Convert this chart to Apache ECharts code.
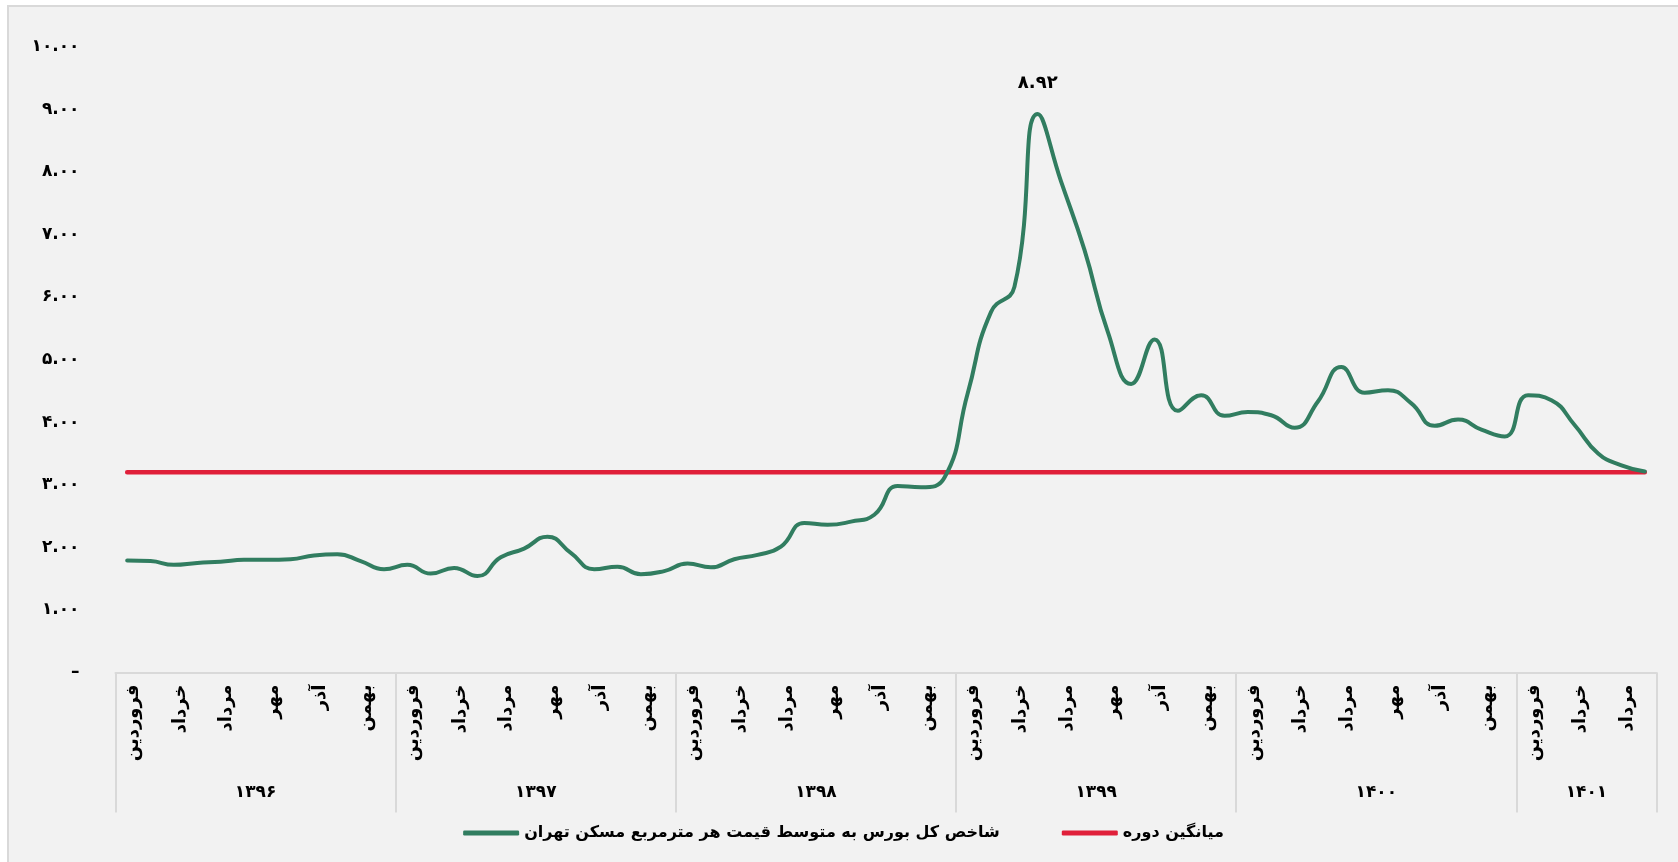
<!DOCTYPE html>
<html>
<head>
<meta charset="utf-8">
<script src="https://cdn.jsdelivr.net/npm/echarts@6/dist/echarts.min.js"></script>
<style>
  html, body { margin: 0; padding: 0; background: #fff; overflow: hidden; }
  #chart {
    position: absolute; left: 7px; top: 5px; width: 1671px; height: 857px;
    box-sizing: border-box; background: #f2f2f2;
    border-left: 2px solid #d9d9d9; border-top: 2px solid #d9d9d9;
  }
</style>
</head>
<body>
<div id="chart"></div>
<script>
// years and month names (Solar Hijri)
const years = ['۱۳۹۶', '۱۳۹۷', '۱۳۹۸', '۱۳۹۹', '۱۴۰۰', '۱۴۰۱']
const monthsPerYear = [12, 12, 12, 12, 12, 6]
const monthNames = ['فروردین', 'اردیبهشت', 'خرداد', 'تیر', 'مرداد', 'شهریور',
  'مهر', 'آبان', 'آذر', 'دی', 'بهمن', 'اسفند']

// stock index / Tehran housing price per m2, monthly
const ratio1396 = [1.79, 1.78, 1.72, 1.75, 1.77, 1.80, 1.80, 1.81, 1.87, 1.89, 1.78, 1.65]
const ratio1397 = [1.72, 1.58, 1.67, 1.54, 1.84, 1.98, 2.17, 1.91, 1.65, 1.69, 1.57, 1.62]
const ratio1398 = [1.74, 1.68, 1.81, 1.88, 2.01, 2.39, 2.36, 2.41, 2.52, 2.98, 2.96, 3.11]
const ratio1399 = [4.46, 5.76, 6.16, 8.92, 7.84, 6.75, 5.44, 4.61, 5.32, 4.18, 4.43, 4.10]
const ratio1400 = [4.16, 4.11, 3.91, 4.33, 4.88, 4.47, 4.51, 4.30, 3.94, 4.04, 3.88, 3.77]
const ratio1401 = [4.43, 4.35, 3.95, 3.50, 3.31, 3.21]
const periodAverage = 3.20

const ratioName = 'شاخص کل بورس به متوسط قیمت هر مترمربع مسکن تهران'
const avgName = 'میانگین دوره'

const ratioValues = [].concat(ratio1396, ratio1397, ratio1398, ratio1399, ratio1400, ratio1401)

const toFa = (s) => String(s).replace(/\d/g, (d) => '۰۱۲۳۴۵۶۷۸۹'[d])

// build month categories, year start / middle indices
const categories = []
const monthLabels = []
const yearStart = []
const yearMid = {}
years.forEach((y, yi) => {
  yearStart.push(categories.length)
  yearMid[categories.length + Math.floor(monthsPerYear[yi] / 2)] = y
  for (let m = 0; m < monthsPerYear[yi]; m++) {
    categories.push(y + '-' + (m + 1))
    monthLabels.push(monthNames[m])
  }
})

const peakIndex = ratioValues.indexOf(Math.max(...ratioValues))

const fontFamily = '"DejaVu Sans", sans-serif'
const gridLeft = 106.5
const gridRight = 21.5
const chartWidth = 1669
const bandWidth = (chartWidth - gridLeft - gridRight) / categories.length

const chart = echarts.init(document.getElementById('chart'))

const option = {
  animation: false,
  backgroundColor: '#f2f2f2',
  textStyle: { fontFamily },
  grid: {
    left: gridLeft,
    right: gridRight,
    top: 39.5,
    bottom: 189.5,
    outerBoundsMode: 'none'
  },
  legend: {
    data: [ratioName, avgName],
    left: 'center',
    top: 813,
    icon: 'roundRect',
    itemWidth: 56,
    itemHeight: 5,
    itemGap: 62,
    textStyle: { fontFamily, fontSize: 16, fontWeight: 'bold', color: '#000' }
  },
  xAxis: [
    {
      type: 'category',
      data: categories,
      axisLine: { lineStyle: { color: '#d9d9d9', width: 2 } },
      axisTick: {
        show: true,
        interval: (i) => yearStart.includes(i),
        length: 140,
        lineStyle: { color: '#d9d9d9', width: 2 }
      },
      axisLabel: {
        interval: 1,
        rotate: 90,
        margin: 12,
        verticalAlign: 'top',
        lineHeight: 12,
        fontSize: 18,
        fontWeight: 'bold',
        color: '#000',
        fontFamily,
        formatter: (v, i) => monthLabels[i]
      }
    },
    {
      type: 'category',
      data: categories,
      position: 'bottom',
      offset: 104,
      axisLine: { show: false },
      axisTick: { show: false },
      axisLabel: {
        interval: (i) => yearMid[i] !== undefined,
        margin: 8,
        align: 'center',
        padding: [0, bandWidth, 0, 0],
        fontSize: 17,
        fontWeight: 'bold',
        color: '#000',
        fontFamily,
        formatter: (v, i) => yearMid[i] || ''
      }
    }
  ],
  yAxis: {
    type: 'value',
    min: 0,
    max: 10,
    interval: 1,
    splitLine: { show: false },
    axisLine: { show: false },
    axisTick: { show: false },
    axisLabel: {
      margin: 36,
      fontSize: 17,
      fontWeight: 'bold',
      color: '#000',
      fontFamily,
      formatter: (v) => (v === 0 ? '–' : toFa(v.toFixed(2)))
    }
  },
  series: [
    {
      name: avgName,
      type: 'line',
      data: categories.map(() => periodAverage),
      symbol: 'none',
      lineStyle: { color: '#e0203a', width: 4.5, cap: 'round' },
      itemStyle: { color: '#e0203a' },
      z: 2
    },
    {
      name: ratioName,
      type: 'line',
      smooth: 0.5,
      symbol: 'circle',
      symbolSize: 0,
      data: ratioValues.map((v, i) =>
        i === peakIndex
          ? {
              value: v,
              label: {
                show: true,
                position: 'top',
                distance: 22,
                fontSize: 18,
                fontWeight: 'bold',
                color: '#000',
                fontFamily,
                formatter: (p) => toFa(p.value.toFixed(2))
              }
            }
          : v
      ),
      lineStyle: { color: '#317d60', width: 4, cap: 'round', join: 'round' },
      itemStyle: { color: '#317d60' },
      z: 3
    }
  ]
}

chart.setOption(option)
</script>
</body>
</html>
